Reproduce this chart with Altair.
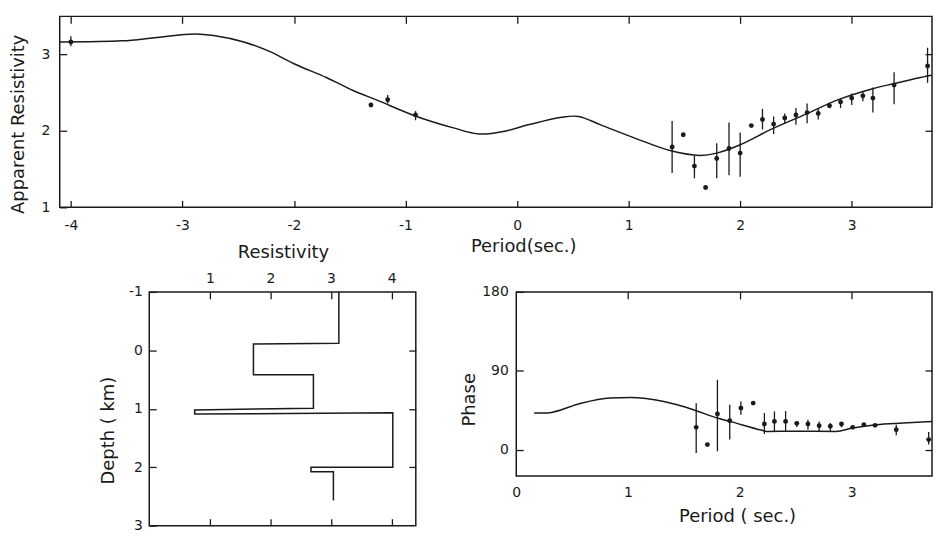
import altair as alt
import pandas as pd

# ---------------- data ----------------
# Top panel: model apparent-resistivity curve
curve_period = [-4.1, -3.54, -3.25, -2.89, -2.72, -2.45, -2.21, -2.0, -1.71, -1.47,
                -1.25, -0.9, -0.57, -0.34, -0.1, 0.1, 0.4, 0.55, 0.75, 1.05,
                1.38, 1.64, 1.79, 2.0, 2.29, 2.59, 2.88, 3.18, 3.38, 3.68, 3.72]
curve_rho = [3.165, 3.18, 3.22, 3.27, 3.25, 3.165, 3.035, 2.88, 2.70, 2.53,
             2.40, 2.19, 2.04, 1.96, 2.0, 2.08, 2.18, 2.19, 2.08, 1.91,
             1.74, 1.68, 1.71, 1.82, 2.03, 2.22, 2.41, 2.55, 2.62, 2.72, 2.73]

# Top panel: observed apparent resistivity with error bars (None = no bar)
obs_period = [-4.0, -1.31, -1.16, -0.91, 1.39, 1.49, 1.59, 1.69, 1.79, 1.9,
              2.0, 2.1, 2.2, 2.3, 2.4, 2.5, 2.6, 2.7, 2.8, 2.9,
              3.0, 3.1, 3.19, 3.38, 3.68]
obs_rho = [3.165, 2.34, 2.41, 2.21, 1.79, 1.95, 1.54, 1.26, 1.64, 1.77,
           1.71, 2.07, 2.15, 2.09, 2.17, 2.21, 2.24, 2.23, 2.33, 2.38,
           2.43, 2.46, 2.43, 2.60, 2.85]
obs_lo = [3.11, None, 2.36, 2.14, 1.45, None, 1.38, None, 1.38, 1.42,
          1.40, None, 2.02, 1.96, 2.10, 2.08, 2.10, 2.15, 2.30, 2.30,
          2.34, 2.39, 2.24, 2.35, 2.63]
obs_hi = [3.24, None, 2.47, 2.26, 2.13, None, 1.68, None, 1.84, 2.11,
          1.98, None, 2.29, 2.19, 2.23, 2.30, 2.36, 2.29, 2.37, 2.43,
          2.49, 2.52, 2.57, 2.77, 3.09]

# Bottom-left: layered resistivity model (step-profile vertices)
model_res = [3.13, 3.13, 1.72, 1.72, 2.71, 2.71, 0.75, 0.75, 4.02, 4.02, 2.67, 2.67, 3.04, 3.04]
model_depth = [-1.0, -0.12, -0.11, 0.42, 0.42, 0.99, 1.02, 1.09, 1.07, 2.0, 2.0, 2.08, 2.08, 2.57]

# Bottom-right: model phase curve
phase_curve_period = [0.16, 0.28, 0.58, 0.84, 1.02, 1.32, 1.44, 1.61, 1.80, 1.91,
                      2.20, 2.24, 2.5, 2.86, 3.01, 3.22, 3.46, 3.72]
phase_curve = [41.7, 41.9, 53.0, 58.8, 59.6, 55.0, 51.2, 44.4, 36.0, 32.2,
               22.0, 20.8, 21.0, 20.8, 24.7, 28.5, 30.4, 32.2]

# Bottom-right: observed phase with error bars (None = no bar)
phase_period = [1.61, 1.71, 1.80, 1.91, 2.01, 2.12, 2.22, 2.31, 2.41, 2.51,
                2.61, 2.71, 2.81, 2.91, 3.01, 3.11, 3.21, 3.40, 3.69]
phase_obs = [25.4, 5.7, 40.6, 33.0, 47.4, 53.1, 29.2, 32.2, 32.2, 30.0,
             29.2, 27.3, 26.6, 29.2, 25.4, 28.5, 27.7, 22.8, 11.4]
phase_lo = [-3.9, None, -1.9, 11.4, 39.9, None, 17.8, 20.0, 20.5, 25.8,
            22.8, 20.8, 20.8, 25.4, None, None, None, 16.3, 5.7]
phase_hi = [53.0, None, 79.7, 51.3, 55.0, None, 41.7, 43.6, 44.0, 32.6,
            34.0, 32.2, 30.3, 31.5, None, None, None, 28.5, 20.0]

# Axis tick values
top_x_ticks = [-4, -3, -2, -1, 0, 1, 2, 3]
top_y_ticks = [1, 2, 3]
top_right_ticks = [2, 3]
bl_x_ticks = [1, 2, 3, 4]
bl_y_ticks = [-1, 0, 1, 2, 3]
bl_right_ticks = [0, 1, 2]
br_x_ticks = [0, 1, 2, 3]
br_top_ticks = [1, 2, 3]
br_y_ticks = [0, 90, 180]
br_right_ticks = [0, 90]

# ---------------- tables ----------------
df_curve = pd.DataFrame({"period": curve_period, "rho": curve_rho})
df_obs = pd.DataFrame({"period": obs_period, "rho": obs_rho, "lo": obs_lo, "hi": obs_hi})
df_obs_bars = df_obs.dropna(subset=["lo", "hi"])
df_model = pd.DataFrame({"res": model_res, "depth": model_depth, "i": list(range(len(model_res)))})
df_phase_curve = pd.DataFrame({"period": phase_curve_period, "phase": phase_curve})
df_phase = pd.DataFrame({"period": phase_period, "phase": phase_obs, "lo": phase_lo, "hi": phase_hi})
df_phase_bars = df_phase.dropna(subset=["lo", "hi"])

# ---------------- style ----------------
INK = "#1a1a1a"
FONT = "DejaVu Sans"
TS = 7
HYPHEN_MINUS = "replace(datum.label, '\u2212', '-')"


def axis(orient, values, labels=False, pad=8, title=None, tx=0, ty=0, ticks=True):
    kw = dict(orient=orient, values=values, domain=False, grid=False, ticks=ticks,
              tickSize=TS, tickWidth=1.3, tickColor=INK, labels=labels,
              offset=-TS if ticks else 0,
              labelFont=FONT, labelFontSize=14, labelColor=INK, labelPadding=pad,
              labelFlush=False, labelOverlap=False, labelExpr=HYPHEN_MINUS)
    if title:
        kw.update(title=title, titleFont=FONT, titleFontSize=18, titleFontWeight="normal",
                  titleColor=INK, titleX=tx, titleY=ty, titleAlign="center",
                  titleBaseline="middle",
                  titleAngle=270 if orient in ("left", "right") else 0)
    else:
        kw["title"] = None
    return alt.Axis(**kw)


def sc(domain, reverse=False):
    if reverse:
        return alt.Scale(domain=domain, nice=False, zero=False, reverse=True)
    return alt.Scale(domain=domain, nice=False, zero=False)


# ---------------- top panel ----------------
xs_top = sc([-4.1, 3.72])
ys_top = sc([1, 3.5])

top_line = alt.Chart(df_curve).mark_line(color=INK, strokeWidth=1.5, interpolate="catmull-rom").encode(
    x=alt.X("period:Q", scale=xs_top,
            axis=axis("bottom", top_x_ticks, labels=True, pad=11, title="Period(sec.)", tx=466, ty=46)),
    y=alt.Y("rho:Q", scale=ys_top,
            axis=axis("left", top_y_ticks, labels=True, pad=10, title="Apparent Resistivity", tx=-48, ty=108)),
)
top_bars = alt.Chart(df_obs_bars).mark_rule(color=INK, strokeWidth=1.3).encode(
    x=alt.X("period:Q", scale=xs_top, axis=None),
    y=alt.Y("lo:Q", scale=ys_top, axis=None),
    y2="hi:Q",
)
top_dots = alt.Chart(df_obs).mark_circle(color=INK, size=24, opacity=1).encode(
    x=alt.X("period:Q", scale=xs_top, axis=None),
    y=alt.Y("rho:Q", scale=ys_top, axis=None),
)
top_opp = alt.Chart(df_curve).mark_point(opacity=0).encode(
    x=alt.X("period:Q", scale=xs_top, axis=axis("top", top_x_ticks)),
    y=alt.Y("rho:Q", scale=ys_top, axis=axis("right", top_right_ticks)),
)
top = alt.layer(top_line, top_bars, top_dots, top_opp).resolve_axis(
    x="independent", y="independent").properties(width=877, height=192)

# ---------------- bottom-left panel ----------------
xs_bl = sc([0, 4.4])
ys_bl = sc([-1, 3], reverse=True)

bl_line = alt.Chart(df_model).mark_line(color=INK, strokeWidth=1.5).encode(
    x=alt.X("res:Q", scale=xs_bl,
            axis=axis("top", bl_x_ticks, labels=True, pad=6, title="Resistivity", tx=134.5, ty=-47)),
    y=alt.Y("depth:Q", scale=ys_bl,
            axis=axis("left", bl_y_ticks, labels=True, pad=7, title="Depth ( km)", tx=-48, ty=139)),
    order="i:Q",
)
bl_opp = alt.Chart(df_model).mark_point(opacity=0).encode(
    x=alt.X("res:Q", scale=xs_bl, axis=axis("bottom", bl_x_ticks)),
    y=alt.Y("depth:Q", scale=ys_bl, axis=axis("right", bl_right_ticks)),
)
bl = alt.layer(bl_line, bl_opp).resolve_axis(
    x="independent", y="independent").properties(width=268, height=235)

# ---------------- bottom-right panel ----------------
xs_br = sc([0, 3.72])
ys_br = sc([-30, 180])

br_line = alt.Chart(df_phase_curve).mark_line(color=INK, strokeWidth=1.5, interpolate="monotone").encode(
    x=alt.X("period:Q", scale=xs_br,
            axis=axis("bottom", br_x_ticks, labels=True, pad=10, title="Period ( sec.)",
                      tx=222, ty=41, ticks=False)),
    y=alt.Y("phase:Q", scale=ys_br,
            axis=axis("left", br_y_ticks, labels=True, pad=8, title="Phase", tx=-54, ty=108)),
)
br_bars = alt.Chart(df_phase_bars).mark_rule(color=INK, strokeWidth=1.3).encode(
    x=alt.X("period:Q", scale=xs_br, axis=None),
    y=alt.Y("lo:Q", scale=ys_br, axis=None),
    y2="hi:Q",
)
br_dots = alt.Chart(df_phase).mark_circle(color=INK, size=24, opacity=1).encode(
    x=alt.X("period:Q", scale=xs_br, axis=None),
    y=alt.Y("phase:Q", scale=ys_br, axis=None),
)
br_opp = alt.Chart(df_phase_curve).mark_point(opacity=0).encode(
    x=alt.X("period:Q", scale=xs_br, axis=axis("top", br_top_ticks)),
    y=alt.Y("phase:Q", scale=ys_br, axis=axis("right", br_right_ticks)),
)
br = alt.layer(br_line, br_bars, br_dots, br_opp).resolve_axis(
    x="independent", y="independent").properties(width=418, height=185)


# ---------------- layout ----------------
def spacer(w):
    return alt.Chart(pd.DataFrame({"v": [0]})).mark_point(opacity=0).encode(
        x=alt.X("v:Q", axis=None), y=alt.Y("v:Q", axis=None)
    ).properties(width=w, height=1, view=alt.ViewBackground(stroke="transparent"))


bottom = alt.hconcat(spacer(90), bl, spacer(101), br, spacing=0, bounds="flush")
chart = alt.vconcat(top, bottom, spacing=85, bounds="flush").properties(
    padding={"left": 1, "top": 5, "right": 0, "bottom": 0},
    background="white",
).configure_view(stroke=INK, strokeWidth=1.5)

chart.save("out.html", embed_options={"renderer": "svg", "actions": False})
